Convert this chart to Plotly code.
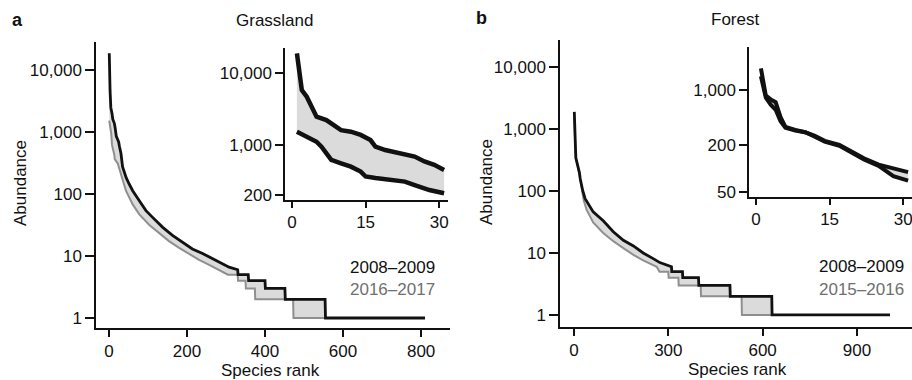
import plotly.graph_objects as go

# ---------------- Data ----------------
# Grassland, top-ranked species (inset a)
grass_0809_top_rank = [1, 2, 3, 5, 7, 8, 10, 12, 14, 16, 17, 19, 22, 25, 27, 29, 31]
grass_0809_top_abund = [18700, 5800, 4690, 2470, 2220, 2000, 1610, 1530, 1380, 1170, 950, 850, 770, 690, 590, 530, 450]
grass_1617_top_rank = [1, 3, 5, 6, 8, 10, 12, 14, 15, 17, 20, 23, 25, 28, 31]
grass_1617_top_abund = [1530, 1300, 1110, 946, 620, 556, 500, 427, 365, 348, 326, 310, 278, 237, 214]
# Grassland, remaining ranks (main panel a)
grass_0809_tail_rank = [35, 44, 52, 61, 78, 95, 112, 138, 163, 189, 214, 240, 266, 291, 308, 330, 331, 357, 358, 400, 401, 451, 452, 554, 555, 810]
grass_0809_tail_abund = [275, 185, 145, 113, 78, 54, 42, 29, 21.5, 16.7, 13, 11, 9, 7.5, 6.6, 6, 5, 5, 4, 4, 3, 3, 2, 2, 1, 1]
grass_1617_tail_rank = [44, 61, 78, 103, 128, 154, 180, 206, 231, 257, 282, 305, 330, 331, 350, 351, 374, 375, 472, 473, 640]
grass_1617_tail_abund = [112, 68, 47, 32, 23.4, 17.4, 13.5, 10.7, 8.7, 7.2, 6, 5, 5, 4, 4, 3, 3, 2, 2, 1, 1]

# Forest, top-ranked species (inset b)
forest_0809_top_rank = [1, 2, 3, 4, 5, 6, 8, 10, 12, 14, 17, 20, 22, 25, 28, 31]
forest_0809_top_abund = [1890, 850, 760, 700, 450, 340, 310, 290, 260, 225, 200, 156, 135, 112, 100, 90]
forest_1516_top_rank = [1, 2, 3, 4, 5, 6, 8, 10, 12, 14, 17, 20, 22, 25, 28, 31]
forest_1516_top_abund = [1500, 800, 650, 560, 400, 330, 305, 290, 255, 220, 195, 152, 130, 108, 80, 70]
# Forest, remaining ranks (main panel b)
forest_0809_tail_rank = [35, 61, 93, 125, 157, 189, 220, 252, 273, 310, 311, 345, 346, 396, 397, 496, 497, 629, 630, 1005]
forest_0809_tail_abund = [76, 46, 33, 22, 16, 13, 10, 8.1, 7, 6, 5, 5, 4, 4, 3, 3, 2, 2, 1, 1]
forest_1516_tail_rank = [40, 61, 93, 125, 157, 189, 220, 242, 263, 272, 300, 301, 332, 333, 403, 404, 533, 534, 720]
forest_1516_tail_abund = [50, 31, 21, 15.5, 12, 9.3, 7.6, 6.7, 6, 5, 5, 4, 4, 3, 3, 2, 2, 1, 1]

# Tick labels
main_y_ticks = [1, 10, 100, 1000, 10000]
main_y_text = ["1", "10", "100", "1,000", "10,000"]
grass_x_ticks = [0, 200, 400, 600, 800]
forest_x_ticks = [0, 300, 600, 900]
inset_x_ticks = [0, 15, 30]
grass_inset_y_ticks = [200, 1000, 10000]
grass_inset_y_text = ["200", "1,000", "10,000"]
forest_inset_y_ticks = [50, 200, 1000]
forest_inset_y_text = ["50", "200", "1,000"]

# ---------------- Styling ----------------
FONT = "Liberation Sans, Arial, sans-serif"
FS = 17
BLACK = "#111111"
GREY = "#8f8f8f"
FILL = "rgba(190,190,190,0.55)"

fig = go.Figure()


def add_pair(x_old, y_old, x_new, y_new, xa, ya, old_w, new_color, new_w):
    # hidden base for the fill between the two surveys
    fig.add_trace(go.Scatter(x=x_old, y=y_old, mode="lines", line=dict(width=0, color=BLACK),
                             xaxis=xa, yaxis=ya, showlegend=False, hoverinfo="skip"))
    fig.add_trace(go.Scatter(x=x_new, y=y_new, mode="lines", line=dict(width=new_w, color=new_color),
                             fill="tonexty", fillcolor=FILL,
                             xaxis=xa, yaxis=ya, showlegend=False))
    fig.add_trace(go.Scatter(x=x_old, y=y_old, mode="lines", line=dict(width=old_w, color=BLACK),
                             xaxis=xa, yaxis=ya, showlegend=False))


# Main grassland
add_pair(grass_0809_top_rank + grass_0809_tail_rank, grass_0809_top_abund + grass_0809_tail_abund,
         grass_1617_top_rank + grass_1617_tail_rank, grass_1617_top_abund + grass_1617_tail_abund,
         "x", "y", 2.8, GREY, 2)
# Inset grassland
add_pair(grass_0809_top_rank, grass_0809_top_abund, grass_1617_top_rank, grass_1617_top_abund,
         "x2", "y2", 4.5, BLACK, 4.5)
# Main forest
add_pair(forest_0809_top_rank + forest_0809_tail_rank, forest_0809_top_abund + forest_0809_tail_abund,
         forest_1516_top_rank + forest_1516_tail_rank, forest_1516_top_abund + forest_1516_tail_abund,
         "x3", "y3", 2.8, GREY, 2)
# Inset forest
add_pair(forest_0809_top_rank, forest_0809_top_abund, forest_1516_top_rank, forest_1516_top_abund,
         "x4", "y4", 4, BLACK, 4)

W, H = 912, 380


def dx(a, b):
    return [a / W, b / W]


def dy(top, bottom):
    return [1 - bottom / H, 1 - top / H]


axis_common = dict(showline=True, linecolor=BLACK, linewidth=1.5, ticks="outside",
                   tickcolor=BLACK, tickwidth=1.5, showgrid=False, zeroline=False,
                   tickfont=dict(family=FONT, size=FS, color=BLACK), mirror=False,
                   automargin=False, ticklabeloverflow="allow")

fig.update_layout(
    width=W, height=H, margin=dict(l=0, r=0, t=0, b=0, pad=0),
    paper_bgcolor="white", plot_bgcolor="white", template="none",
    showlegend=False,
    xaxis=dict(axis_common, domain=dx(96, 450), range=[-33, 874], anchor="y",
               tickvals=grass_x_ticks, ticklen=7),
    yaxis=dict(axis_common, domain=dy(42, 328), type="log", range=[-0.161, 4.452], anchor="x",
               tickvals=main_y_ticks, ticktext=main_y_text, ticklen=9),
    xaxis2=dict(axis_common, domain=dx(285, 448), range=[-1.43, 31.8], anchor="y2",
                tickvals=inset_x_ticks, ticklen=6),
    yaxis2=dict(axis_common, domain=dy(48, 200), type="log", range=[2.236, 4.347], anchor="x2",
                tickvals=grass_inset_y_ticks, ticktext=grass_inset_y_text, ticklen=8),
    xaxis3=dict(axis_common, domain=dx(560, 912), range=[-44.5, 1075], anchor="y3",
                tickvals=forest_x_ticks, ticklen=7),
    yaxis3=dict(axis_common, domain=dy(40, 327), type="log", range=[-0.194, 4.435], anchor="x3",
                tickvals=main_y_ticks, ticktext=main_y_text, ticklen=9),
    xaxis4=dict(axis_common, domain=dx(749, 912), range=[-1.43, 31.8], anchor="y4",
                tickvals=inset_x_ticks, ticklen=6),
    yaxis4=dict(axis_common, domain=dy(47, 197), type="log", range=[1.637, 3.548], anchor="x4",
                tickvals=forest_inset_y_ticks, ticktext=forest_inset_y_text, ticklen=8),
)


def ann(text, x, y, size=FS, color=BLACK, bold=False, angle=0, xanchor="center"):
    fig.add_annotation(text=("<b>%s</b>" % text) if bold else text,
                       x=x / W, y=1 - y / H, xref="paper", yref="paper",
                       showarrow=False, xanchor=xanchor, yanchor="middle", textangle=angle,
                       font=dict(family=FONT, size=size, color=color))


ann("a", 17, 20, size=18, bold=True)
ann("b", 481, 18, size=18, bold=True)
ann("Grassland", 274, 21)
ann("Forest", 735, 19)
ann("Abundance", 20, 183, angle=-90)
ann("Abundance", 487, 182, angle=-90)
ann("Species rank", 270, 370)
ann("Species rank", 737, 369)
ann("2008–2009", 392, 267)
ann("2016–2017", 392, 289, color="#6f6f6f")
ann("2008–2009", 817, 266, xanchor="left")
ann("2015–2016", 817, 289, color="#6f6f6f", xanchor="left")

fig.write_html("out.html", config={"displayModeBar": False},
               post_script="document.body.style.margin='0';document.body.style.overflow='hidden';")
